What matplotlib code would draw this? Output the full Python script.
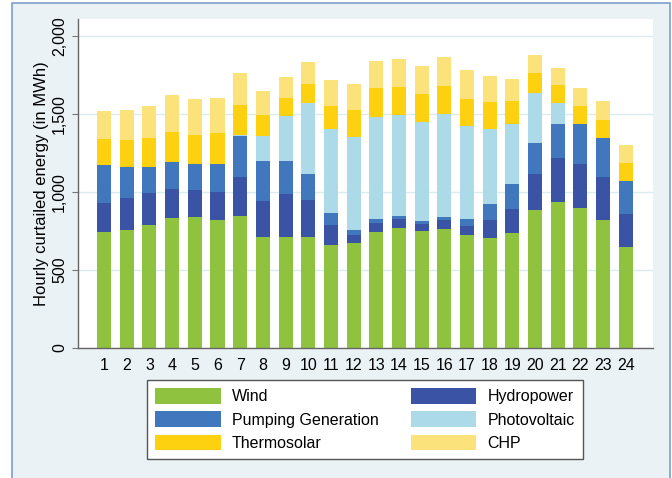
import numpy as np
import matplotlib
matplotlib.use("Agg")
import matplotlib.pyplot as plt
import matplotlib.ticker as mticker
from matplotlib.patches import Rectangle, Patch

plt.rcParams['font.family'] = ['Liberation Sans', 'DejaVu Sans']

hours = list(range(1, 25))

# stacked from bottom to top
wind = [742, 759, 791, 833, 838, 823, 848, 712, 709, 709, 660, 675,
        746, 769, 748, 763, 722, 707, 739, 887, 938, 898, 821, 645]
hydropower = [190, 205, 201, 188, 177, 179, 246, 228, 280, 242, 126, 52,
              58, 56, 49, 58, 62, 116, 154, 231, 282, 284, 275, 212]
pumping = [243, 199, 171, 174, 162, 180, 265, 261, 212, 164, 82, 29,
           25, 21, 19, 21, 41, 100, 156, 196, 218, 252, 252, 214]
photovoltaic = [0, 0, 0, 0, 0, 0, 4, 160, 286, 456, 534, 595,
                652, 648, 631, 658, 596, 483, 389, 323, 133, 0, 0, 0]
thermosolar = [163, 168, 181, 192, 191, 198, 197, 135, 118, 122, 152, 175,
               184, 181, 181, 182, 177, 169, 145, 124, 117, 115, 116, 117]
chp = [179, 195, 210, 233, 230, 223, 205, 150, 135, 143, 166, 169,
       177, 180, 182, 186, 186, 169, 144, 120, 107, 116, 117, 113]

series = [
    ('Wind', wind, '#8fc23f'),
    ('Hydropower', hydropower, '#3a53a4'),
    ('Pumping Generation', pumping, '#4077bd'),
    ('Photovoltaic', photovoltaic, '#acdae8'),
    ('Thermosolar', thermosolar, '#fdd10f'),
    ('CHP', chp, '#fbe27b'),
]

fig = plt.figure(figsize=(6.72, 4.78), dpi=100)
fig.patch.set_facecolor('white')

# light background panel with blue frame
bg = Rectangle((12 / 672, -0.05), (670 - 12) / 672, 1.05 - 3 / 478,
               transform=fig.transFigure, facecolor='#eaf2f5',
               edgecolor='#7f9fcf', linewidth=1.2, zorder=-5)
fig.patches.append(bg)

ax = fig.add_axes([78 / 672, 1 - 348 / 478, (653 - 78) / 672, (348 - 19) / 478])
ax.set_facecolor('white')

bottom = np.zeros(len(hours))
handles = {}
for name, vals, color in series:
    v = np.array(vals, dtype=float)
    ax.bar(hours, v, width=0.62, bottom=bottom, color=color, edgecolor='none', zorder=2)
    bottom += v
    handles[name] = Patch(facecolor=color, edgecolor='none')

ax.set_xlim(-0.15, 25.2)
ax.set_ylim(0, 2110)
ax.set_yticks([0, 500, 1000, 1500, 2000])
ax.yaxis.set_major_formatter(mticker.FuncFormatter(lambda x, p: f'{int(x):,}'))
ax.set_xticks(hours)
ax.tick_params(axis='x', length=0, pad=7, labelsize=11.5)
ax.tick_params(axis='y', length=4.3, color='#777777', labelsize=11.5, pad=3.5)
for lab in ax.get_yticklabels():
    lab.set_rotation(90)
    lab.set_va('center')
ax.grid(axis='y', color='#dcebf0', linewidth=1, zorder=0)
ax.set_axisbelow(True)
for s in ['top', 'right']:
    ax.spines[s].set_visible(False)
for s in ['left', 'bottom']:
    ax.spines[s].set_color('#666666')
    ax.spines[s].set_linewidth(1)
ax.set_ylabel('Hourly curtailed energy (in MWh)', fontsize=12, labelpad=2.5)

order = ['Wind', 'Pumping Generation', 'Thermosolar', 'Hydropower', 'Photovoltaic', 'CHP']
leg = fig.legend([handles[n] for n in order], order, ncol=2,
                 loc='center', bbox_to_anchor=(365 / 672, 1 - 419.5 / 478),
                 fontsize=11.5, frameon=True, fancybox=False, framealpha=1,
                 handlelength=4.1, handleheight=1.1, handletextpad=0.7,
                 columnspacing=2.0, labelspacing=0.45, borderpad=0.5)
leg.get_frame().set_edgecolor('#555555')
leg.get_frame().set_facecolor('white')
leg.get_frame().set_linewidth(1)

fig.savefig('out.png', dpi=100, facecolor=fig.get_facecolor())
